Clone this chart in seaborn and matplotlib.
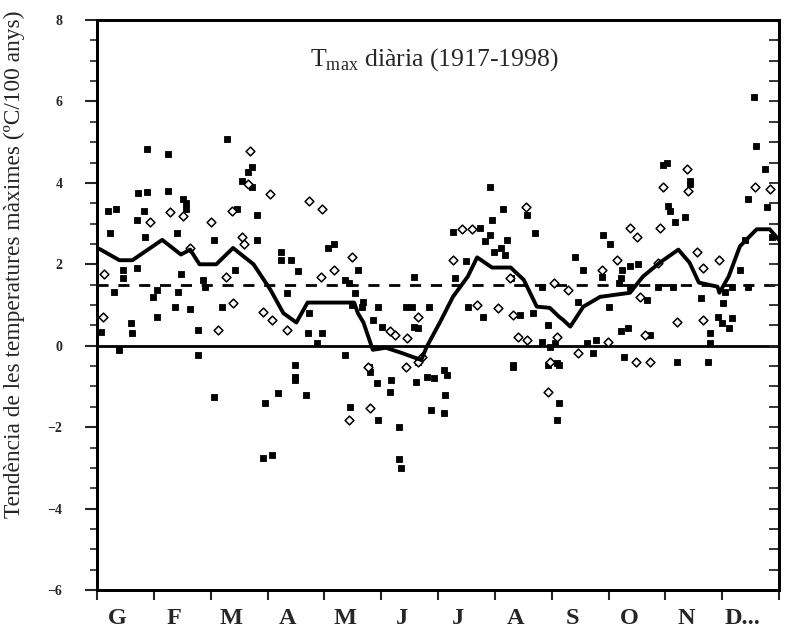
import matplotlib
matplotlib.use("Agg")
import matplotlib.pyplot as plt
import seaborn as sns
import numpy as np
import pandas as pd
from matplotlib.ticker import MultipleLocator, FixedLocator, NullFormatter

# ---------------- data ----------------
months = ["G", "F", "M", "A", "M", "J", "J", "A", "S", "O", "N", "D..."]

filled_day = [6, 10, 7, 9, 14, 14, 21.5, 21.5, 27, 25, 26, 38, 46, 48, 43, 63, 75, 86, 86, 99, 99, 104, 108, 124,
              45, 32, 30, 43.5, 57, 58, 74, 50, 42, 67, 32, 102, 114, 113, 118, 121, 18, 19, 54, 2, 12, 54, 106, 106,
              106, 63, 97, 112, 90, 94, 89, 27, 38, 70, 83, 81, 78, 83, 48, 22,
              127, 133, 135, 140, 138.5, 137, 143, 142, 151, 148, 153, 166, 169, 170, 178, 170, 172, 133, 146, 186,
              181, 191, 205.6, 212, 211, 208, 217, 220, 213, 219, 198, 192, 199, 207, 222, 227, 235, 218, 211, 231,
              234, 242, 239, 243, 247, 239, 223,
              146.5, 172, 188, 158, 171, 177, 150, 157, 187, 136, 179, 186, 151, 162, 162, 163, 223, 242, 248, 248, 247,
              318, 306.5, 307.6, 315.7, 310.3, 271.6, 275.4, 256.6, 261, 271, 282, 286, 290.4, 281, 280, 286, 301, 309,
              295, 258, 275, 281, 285, 297, 268, 263, 246, 266, 283, 311, 328, 329, 329, 324, 336, 333, 335.5, 341,
              339, 337, 341, 349.5, 345, 349.5, 359.7, 348, 362, 352.7, 353.7, 358.6, 318, 306, 304]
filled_val = [3.3, 3.35, 2.78, 1.33, 1.87, 1.67, 1.92, 3.1, 3.77, 3.3, 2.68, 3.8, 3.6, 3.35, 2.78, 2.6, 3.35, 2.6, 3.2,
              2.3, 2.1, 2.1, 1.83, 2.4,
              1.75, 1.38, 1.2, 1.33, 1.62, 1.45, 1.87, 0.89, 0.96, 0.96, 0.71, 1.3, 0.8, 0.32, 0.07, 0.32, 0.57, 0.32,
              0.39, 0.34, -0.1, -0.22, -0.47, -0.76,
              -0.84, -1.26, -1.16, -1.2, -1.4, -2.68, -2.76, 4.83, 4.7, 5.07, 4.38, 4.26, 4.04, 3.9, 3.5, 3.75,
              2.49, 1.62, 1.55, 1.87, 1.3, 1.0, 1.08, 0.94, 0.96, 0.64, 0.47, 0.96, 0.94, 1.7, 0.96, 0.47, 0.44,
              -0.22, -0.52, -0.59,
              -0.79, 2.8, 2.9, 3.1, 2.73, 2.56, 2.4, 2.6, 2.3, 2.24, 2.07, 1.67, 0.96, 0.71, 1.67, 0.76, 2.78, 3.35,
              3.9, 3.2,
              0.8, 0.52, 0.1, -0.02, -0.42, 1.43, -0.47,
              -0.64, -0.39, -0.71, -0.84, -0.89, -0.76, -0.91, -1.13, -1.2, -1.5, -1.58, -1.65, -1.82, -1.99, -2.78,
              -3.0, -0.52, -0.47, -0.47, -1.4, -1.82,
              3.97, 3.42, 3.3, 3.15, 3.03, 2.73, 2.49, 2.17, 1.87, 1.7, 1.87, 1.95, 2.0, 1.67, 1.55, 1.45, 1.45, 1.45,
              1.13, 1.08, 0.96, 0.35, 0.44, 0.27, 0.15, 0.07, 0.07, -0.17, -0.27, -0.39, -0.39, 0.07, 0.32, 1.18,
              1.06, 0.71, 0.57, 0.69,
              0.44, 1.33, 1.45, 1.45, 1.87, 3.6, 3.4, 2.6, 2.66, 6.1, 4.9, 4.33, 4.04, 4.5, 4.45]

open_day = [4, 28.5, 39, 46, 50, 61, 72.5, 78, 93, 81, 114, 120, 69, 73, 89, 94, 102, 65, 3, 82, 79,
            121, 137, 127, 157, 160, 172, 166.5, 172, 174.5, 196, 201, 191, 204, 215, 221.7, 223, 226, 231, 243, 245,
            230,
            145.5, 166, 135, 146.5, 242,
            304, 317, 302, 286, 290, 279, 271, 301, 252.8, 291.5, 311, 294, 274, 247, 258, 289, 297, 325, 322, 325,
            334, 353, 361, 316.7]
open_val = [1.75, 3.03, 3.28, 3.18, 2.4, 3.05, 3.3, 2.68, 3.72, 3.97, 3.55, 1.7, 1.7, 1.06, 0.84, 0.64, 0.39, 0.39,
            0.71, 4.78, 2.5,
            3.35, 2.17, 1.87, 0.35, 0.27, 0.71, 0.2, -0.39, -0.27, 2.86, 2.86, 2.1, 1.0, 0.93, 1.67, 0.76, 0.22, 0.15,
            -0.39, 1.55, 3.4,
            -0.52, -0.52, -1.82, -1.53, -1.13,
            3.9, 3.8, 2.9, 2.9, 2.68, 2.1, 1.87, 2.04, 1.38, 1.2, 0.59, 0.27, 0.1, 0.22, -0.17, -0.39, -0.39, 0.64,
            2.3, 1.92, 2.1, 3.9, 3.84, 4.33]

smooth_day = [0, 2, 12, 19, 35, 45, 50, 55, 64, 73, 84, 93, 100, 107, 113, 125, 138, 140, 143, 148, 155, 163, 174,
              177, 184, 191, 199, 204, 212, 222, 229, 236, 243, 248, 250, 254, 261, 270, 286, 293, 302, 312, 318, 323,
              333, 334, 339, 345, 354, 361, 366]
smooth_val = [2.4, 2.36, 2.1, 2.1, 2.6, 2.24, 2.36, 2.0, 2.0, 2.4, 2.0, 1.38, 0.8, 0.57, 1.06, 1.06, 1.06, 0.8, 0.57,
              -0.1, -0.05, -0.17, -0.35, -0.02, 0.57, 1.2, 1.7, 2.17, 1.92, 1.92, 1.62, 0.96, 0.93, 0.71, 0.64, 0.47,
              0.96, 1.2, 1.3, 1.7, 2.04, 2.36, 2.04, 1.55, 1.45, 1.3, 1.7, 2.44, 2.86, 2.86, 2.6]

mean_trend = 1.5

# ---------------- figure ----------------
sns.set_style("white")
plt.rcParams["font.family"] = ["Liberation Serif", "DejaVu Serif"]
plt.rcParams["mathtext.fontset"] = "custom"
plt.rcParams["mathtext.rm"] = "Liberation Serif"

fig = plt.figure(figsize=(7.95, 6.35), dpi=100)
ax = fig.add_axes([97 / 795, 1 - 590 / 635, 682 / 795, 570 / 635])

df_f = pd.DataFrame({"day": filled_day, "val": filled_val})
df_o = pd.DataFrame({"day": open_day, "val": open_val})
df_s = pd.DataFrame({"day": smooth_day, "val": smooth_val})

ax.axhline(0, color="black", lw=2.0, zorder=1)
ax.axhline(mean_trend, color="black", lw=2.0, ls=(0, (4, 3.5)), zorder=1)

sns.scatterplot(data=df_f, x="day", y="val", marker="s", s=18, color="black",
                edgecolor="black", linewidth=0.6, ax=ax, zorder=3)
sns.scatterplot(data=df_o, x="day", y="val", marker="D", s=20, facecolor="white",
                edgecolor="black", linewidth=1.1, ax=ax, zorder=3)
sns.lineplot(data=df_s, x="day", y="val", color="black", lw=2.8, ax=ax, zorder=4)

ax.set_xlim(0, 366)
ax.set_ylim(-6, 8)

# x ticks at month boundaries, labels between
bounds = [i * 366 / 12 for i in range(13)]
ax.xaxis.set_major_locator(FixedLocator(bounds))
ax.xaxis.set_major_formatter(NullFormatter())
label_pos = [b + 11 for b in bounds[:-1]]
ax.xaxis.set_minor_locator(FixedLocator(label_pos))
ax.set_xticklabels(months, minor=True)
ax.tick_params(axis="x", which="major", direction="out", length=7, width=1.5, bottom=True)
ax.tick_params(axis="x", which="minor", length=0, pad=13, labelsize=17.5)
for t in ax.get_xticklabels(minor=True):
    t.set_fontweight("bold")

ax.yaxis.set_major_locator(MultipleLocator(2))
ax.yaxis.set_minor_locator(MultipleLocator(0.5))
ax.tick_params(axis="y", which="major", direction="out", length=9, width=1.5, left=True, labelsize=10, pad=16)
ax.tick_params(axis="y", which="minor", direction="out", length=5, width=1.2, left=True)
for t in ax.get_yticklabels():
    t.set_fontweight("bold")

# right-hand inward ticks
ax2 = ax.twinx()
ax2.set_ylim(-6, 8)
ax2.yaxis.set_major_locator(MultipleLocator(2))
ax2.yaxis.set_minor_locator(MultipleLocator(0.5))
ax2.tick_params(axis="y", which="both", direction="in", length=7, width=1.3, right=True, labelright=False)
ax2.set_yticklabels([])

for a in (ax, ax2):
    for sp in a.spines.values():
        sp.set_color("black")
        sp.set_linewidth(2.0)

ax.set_xlabel("")
ax.set_ylabel("Tendència de les temperatures màximes (ºC/100 anys)", fontsize=16.8)
ax.yaxis.set_label_coords(-0.105, 0.572)

ax.text(0.495, 0.93, r"T$_{\mathrm{max}}$ diària (1917-1998)", transform=ax.transAxes,
        ha="center", va="center", fontsize=18.5)

fig.savefig("out.png", dpi=100)
